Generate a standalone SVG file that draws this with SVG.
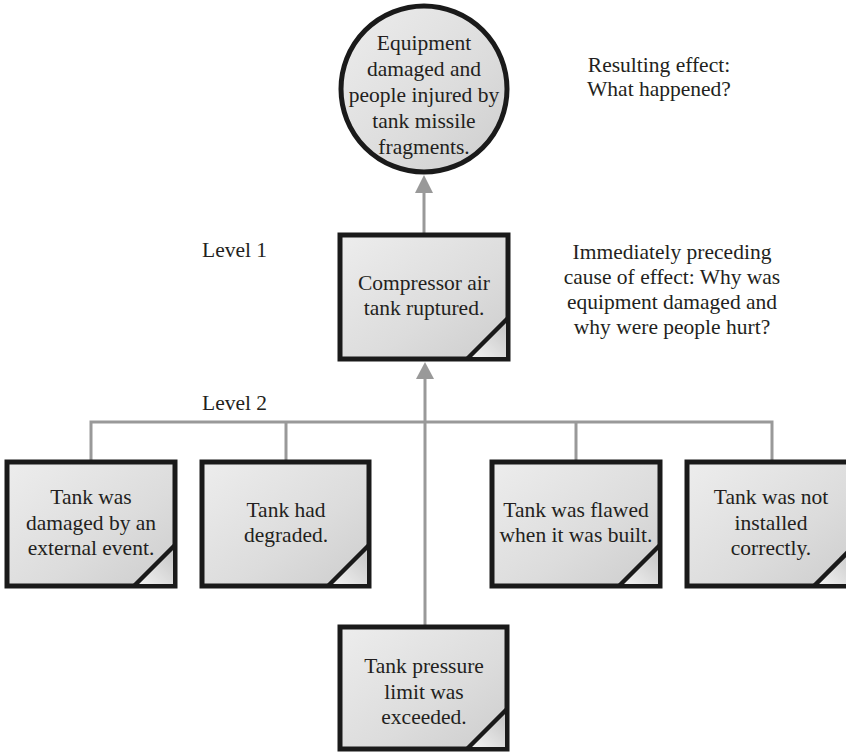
<svg xmlns="http://www.w3.org/2000/svg" width="846" height="752" viewBox="0 0 846 752" font-family="'Liberation Serif', 'Times New Roman', serif">
<defs>
<linearGradient id="g" x1="0" y1="0" x2="1" y2="1">
<stop offset="0" stop-color="#ededed"/>
<stop offset="0.6" stop-color="#dcdcdc"/>
<stop offset="1" stop-color="#cdcdcd"/>
</linearGradient>
<linearGradient id="fold" x1="0" y1="1" x2="1" y2="0">
<stop offset="0" stop-color="#f4f4f4"/>
<stop offset="1" stop-color="#c4c4c4"/>
</linearGradient>
</defs>
<style>
text{font-family:"Liberation Serif","Times New Roman",serif;font-size:21.5px;fill:#231f20;text-anchor:middle}
.box{fill:url(#g);stroke:#1a1a1a;stroke-width:5}
.fold{fill:url(#fold);stroke:none}
.diag{stroke:#1a1a1a;stroke-width:4.5;fill:none}
.con{stroke:#999;stroke-width:3;fill:none}
.head{fill:#999}
.lbl{text-anchor:start}
</style>
<g id="connectors">
<line class="con" x1="424" y1="233" x2="424" y2="190"/>
<path class="head" d="M415,193 L424,175 L433,193 z"/>
<line class="con" x1="425" y1="627" x2="425" y2="376"/>
<path class="head" d="M416,379 L425,362 L434,379 z"/>
<polyline class="con" points="91,462 91,422 772,422 772,462"/>
<line class="con" x1="286" y1="422" x2="286" y2="462"/>
<line class="con" x1="576" y1="422" x2="576" y2="462"/>
</g>
<g id="effect">
<circle cx="424" cy="89" r="83" fill="url(#g)" stroke="#1a1a1a" stroke-width="5"/>
<text x="424" y="50">Equipment</text>
<text x="424" y="76">damaged and</text>
<text x="424" y="102">people injured by</text>
<text x="424" y="128">tank missile</text>
<text x="424" y="154">fragments.</text>
</g>
<g id="compressor">
<rect class="box" x="340" y="235" width="168" height="124"/>
<path class="fold" d="M468,357 L506,319 L506,357 z"/>
<line class="diag" x1="467" y1="359" x2="508" y2="318"/>
<text x="424" y="290">Compressor air</text>
<text x="424" y="315">tank ruptured.</text>
</g>
<g id="external">
<rect class="box" x="7" y="462" width="168" height="124"/>
<path class="fold" d="M135,584 L173,546 L173,584 z"/>
<line class="diag" x1="134" y1="586" x2="175" y2="545"/>
<text x="91" y="504">Tank was</text>
<text x="91" y="530">damaged by an</text>
<text x="91" y="555">external event.</text>
</g>
<g id="degraded">
<rect class="box" x="202" y="462" width="167" height="124"/>
<path class="fold" d="M329,584 L367,546 L367,584 z"/>
<line class="diag" x1="328" y1="586" x2="369" y2="545"/>
<text x="286" y="517">Tank had</text>
<text x="286" y="542">degraded.</text>
</g>
<g id="flawed">
<rect class="box" x="492" y="462" width="168" height="124"/>
<path class="fold" d="M620,584 L658,546 L658,584 z"/>
<line class="diag" x1="619" y1="586" x2="660" y2="545"/>
<text x="576" y="517">Tank was flawed</text>
<text x="576" y="542">when it was built.</text>
</g>
<g id="installed">
<rect class="box" x="687" y="462" width="168" height="124"/>
<path class="fold" d="M815,584 L853,546 L853,584 z"/>
<line class="diag" x1="814" y1="586" x2="855" y2="545"/>
<text x="771" y="504">Tank was not</text>
<text x="771" y="530">installed</text>
<text x="771" y="555">correctly.</text>
</g>
<g id="pressure">
<rect class="box" x="340" y="627" width="167" height="122"/>
<path class="fold" d="M469,747 L505,711 L505,747 z"/>
<line class="diag" x1="467" y1="749" x2="507" y2="709"/>
<text x="424" y="673">Tank pressure</text>
<text x="424" y="699">limit was</text>
<text x="424" y="724">exceeded.</text>
</g>
<g id="labels">
<text class="lbl" x="202" y="257">Level 1</text>
<text class="lbl" x="202" y="410">Level 2</text>
<text x="659" y="72">Resulting effect:</text>
<text x="659" y="96">What happened?</text>
<text x="672" y="259">Immediately preceding</text>
<text x="672" y="284">cause of effect: Why was</text>
<text x="672" y="309">equipment damaged and</text>
<text x="672" y="334">why were people hurt?</text>
</g>
</svg>
